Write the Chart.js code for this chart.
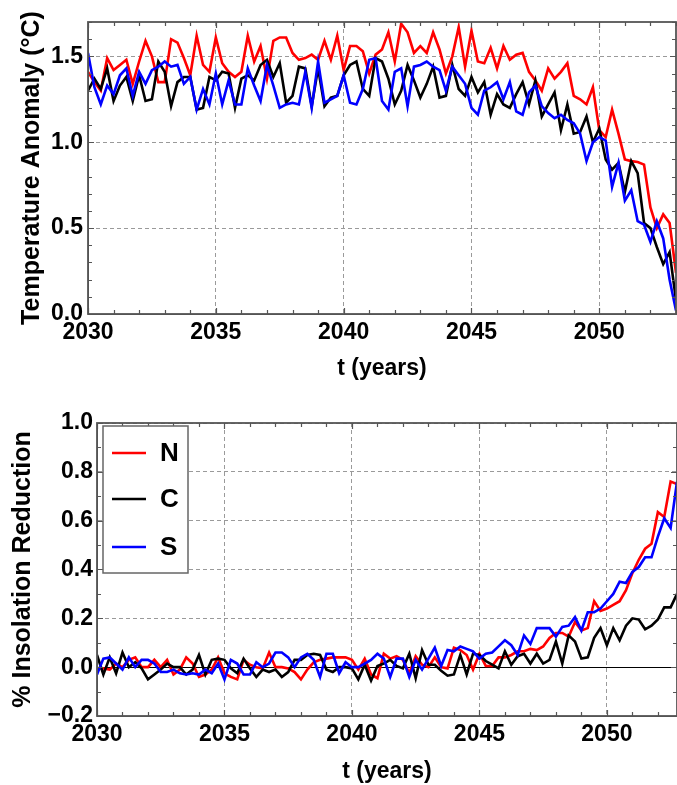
<!DOCTYPE html>
<html><head><meta charset="utf-8">
<script src="https://cdn.jsdelivr.net/npm/chart.js@4/dist/chart.umd.min.js"></script>
<style>
html,body{margin:0;padding:0;background:#fff;width:677px;height:785px;overflow:hidden}
#c1{position:absolute;left:0;top:0}
#c2{position:absolute;left:0;top:395px}
</style></head><body>
<canvas id="c1" width="677" height="395"></canvas>
<canvas id="c2" width="677" height="390"></canvas>
<script>
// ---- data (quarterly samples starting 2030) ----
const startYear = 2030;
const stepYears = 0.25;
const seriesNames = ['N', 'C', 'S'];

const tempN = [1.41,1.35,1.30,1.49,1.42,1.45,1.48,1.34,1.47,1.59,
1.50,1.35,1.35,1.60,1.58,1.49,1.39,1.62,1.45,1.41,
1.61,1.46,1.41,1.38,1.41,1.62,1.47,1.56,1.37,1.59,
1.61,1.61,1.52,1.48,1.49,1.51,1.48,1.59,1.48,1.62,
1.42,1.56,1.56,1.53,1.40,1.51,1.54,1.64,1.47,1.69,
1.64,1.52,1.56,1.52,1.64,1.54,1.40,1.50,1.67,1.44,
1.65,1.47,1.46,1.55,1.43,1.56,1.48,1.51,1.52,1.41,
1.36,1.30,1.43,1.37,1.41,1.46,1.27,1.25,1.22,1.32,
1.07,1.03,1.19,1.05,0.90,0.89,0.885,0.87,0.62,0.50,
0.58,0.53,0.24];
const tempC = [1.30,1.37,1.31,1.43,1.24,1.33,1.38,1.24,1.39,1.24,
1.25,1.47,1.41,1.21,1.35,1.38,1.38,1.19,1.20,1.38,
1.36,1.41,1.40,1.20,1.37,1.39,1.36,1.45,1.48,1.38,
1.46,1.23,1.27,1.44,1.43,1.21,1.43,1.21,1.26,1.27,
1.39,1.45,1.47,1.31,1.27,1.49,1.47,1.37,1.22,1.30,
1.45,1.36,1.26,1.34,1.44,1.26,1.27,1.45,1.31,1.27,
1.38,1.29,1.35,1.16,1.28,1.22,1.20,1.28,1.35,1.22,
1.36,1.15,1.22,1.29,1.07,1.22,1.05,1.06,1.15,1.00,
1.08,0.90,0.84,0.88,0.71,0.89,0.82,0.53,0.50,0.39,
0.29,0.36,0.08];
const tempS = [1.52,1.32,1.22,1.33,1.28,1.39,1.43,1.27,1.41,1.34,
1.42,1.44,1.47,1.44,1.45,1.34,1.38,1.19,1.31,1.22,
1.40,1.22,1.36,1.22,1.22,1.43,1.33,1.24,1.45,1.33,
1.20,1.22,1.23,1.22,1.41,1.20,1.47,1.23,1.25,1.27,
1.39,1.23,1.22,1.31,1.48,1.49,1.24,1.19,1.41,1.43,
1.21,1.44,1.45,1.47,1.44,1.42,1.30,1.44,1.39,1.34,
1.20,1.16,1.30,1.32,1.35,1.25,1.35,1.18,1.16,1.29,
1.33,1.21,1.17,1.14,1.16,1.13,1.11,1.05,0.89,1.00,
1.03,1.01,0.74,0.88,0.66,0.72,0.54,0.52,0.42,0.54,
0.44,0.20,0.02];

const insolN = [-0.005,-0.005,-0.01,0.015,0.0,0.03,0.04,0.0,0.0,0.03,
0.0,0.03,-0.03,-0.01,0.04,0.015,-0.04,-0.03,-0.01,0.04,
-0.025,-0.04,-0.05,0.03,0.01,0.0,-0.005,0.06,0.0,0.0,
-0.005,-0.02,-0.05,-0.01,0.02,0.03,0.035,0.04,0.04,0.04,
0.03,-0.01,0.035,-0.03,-0.045,0.055,0.035,0.045,0.03,-0.025,
0.045,0.01,0.0,0.04,0.0,-0.005,0.08,0.07,0.05,-0.01,
0.055,0.005,0.005,0.04,0.04,0.05,0.065,0.065,0.075,0.07,
0.085,0.12,0.14,0.14,0.125,0.185,0.15,0.16,0.27,0.23,
0.24,0.255,0.27,0.315,0.385,0.44,0.485,0.505,0.635,0.615,
0.76,0.75];
const insolC = [0.05,-0.03,0.04,-0.025,0.06,0.0,0.02,-0.005,-0.05,-0.03,
-0.01,0.015,0.0,0.0,-0.03,-0.01,0.05,-0.03,0.03,0.035,
0.03,-0.005,-0.025,0.035,-0.005,-0.04,-0.01,-0.02,-0.01,-0.04,
-0.02,0.03,0.03,0.05,0.055,0.05,-0.01,-0.02,0.0,0.0,
-0.005,-0.05,0.01,-0.055,0.005,0.015,0.03,0.005,-0.005,0.055,
-0.045,0.07,0.01,0.01,-0.015,-0.035,-0.03,0.05,-0.03,0.055,
0.05,0.025,0.01,-0.005,0.065,0.01,0.045,0.055,0.015,0.055,
0.015,0.03,0.105,0.015,0.13,0.105,0.035,0.04,0.12,0.16,
0.09,0.16,0.11,0.17,0.20,0.195,0.155,0.17,0.195,0.245,
0.245,0.30];
const insolS = [-0.03,0.035,0.04,0.015,-0.01,0.04,0.0,0.03,0.03,0.015,
-0.02,-0.02,-0.01,-0.025,-0.03,-0.025,-0.03,-0.01,-0.025,0.015,
-0.05,0.03,0.015,-0.03,-0.03,0.02,0.0,0.015,0.06,0.06,
0.04,0.0,0.04,0.055,0.03,-0.04,0.055,0.055,-0.025,0.02,
0.0,0.0,0.015,0.03,0.055,0.035,-0.04,0.035,0.035,-0.04,
0.03,-0.01,0.035,0.08,0.005,0.07,0.065,0.085,0.075,0.065,
0.035,0.055,0.06,0.085,0.11,0.09,0.05,0.13,0.095,0.16,
0.16,0.16,0.125,0.165,0.17,0.205,0.15,0.225,0.225,0.24,
0.27,0.30,0.35,0.345,0.39,0.41,0.45,0.45,0.535,0.61,
0.57,0.76];

const colors = ['#ff0000', '#000000', '#0000ff'];
const FONT = "'Liberation Sans', Arial, Helvetica, sans-serif";

function toXY(arr) { return arr.map((v, i) => ({x: startYear + i * stepYears, y: v})); }

function datasets(arrs) {
  return arrs.map((arr, k) => ({
    label: seriesNames[k], data: toXY(arr), borderColor: colors[k],
    borderWidth: 2.6, pointRadius: 0, tension: 0, fill: false,
    order: [2, 1, 0][k], borderJoinStyle: 'miter', borderCapStyle: 'butt'
  }));
}

// frame with inward ticks on all four sides
const framePlugin = {
  id: 'frame',
  afterDraw(chart, args, o) {
    const {ctx, chartArea: a, scales: {x, y}} = chart;
    ctx.save();
    ctx.strokeStyle = '#555';
    ctx.lineWidth = 1.2;
    ctx.beginPath();
    const nx = Math.round((x.max - x.min) / o.xMinor);
    for (let k = 0; k <= nx; k++) {
      const v = x.min + k * o.xMinor;
      const px = Math.round(x.getPixelForValue(v)) + 0.5;
      const major = Math.abs(v / o.xMajor - Math.round(v / o.xMajor)) < 1e-6;
      const len = major ? 6 : 4;
      ctx.moveTo(px, a.bottom); ctx.lineTo(px, a.bottom - len);
      ctx.moveTo(px, a.top); ctx.lineTo(px, a.top + len);
    }
    const ny = Math.round((y.max - y.min) / o.yMinor);
    for (let k = 0; k <= ny; k++) {
      const v = y.min + k * o.yMinor;
      const py = Math.round(y.getPixelForValue(v)) + 0.5;
      const major = Math.abs(v / o.yMajor - Math.round(v / o.yMajor)) < 1e-6;
      const len = major ? 6 : 4;
      ctx.moveTo(a.left, py); ctx.lineTo(a.left + len, py);
      ctx.moveTo(a.right, py); ctx.lineTo(a.right - len, py);
    }
    ctx.stroke();
    ctx.lineWidth = 1.8;
    ctx.strokeRect(a.left, a.top, a.right - a.left, a.bottom - a.top);
    ctx.restore();
  }
};

// zero line for bottom panel
const zeroLinePlugin = {
  id: 'zeroLine',
  beforeDatasetsDraw(chart) {
    const {ctx, chartArea: a, scales: {y}} = chart;
    const py = Math.round(y.getPixelForValue(0)) + 0.5;
    ctx.save();
    ctx.strokeStyle = '#000'; ctx.lineWidth = 1;
    ctx.beginPath(); ctx.moveTo(a.left, py); ctx.lineTo(a.right, py); ctx.stroke();
    ctx.restore();
  }
};

// legend box inside bottom panel
const boxLegendPlugin = {
  id: 'boxLegend',
  afterDraw(chart, args, o) {
    const {ctx} = chart;
    ctx.save();
    ctx.fillStyle = '#fff';
    ctx.fillRect(o.x, o.y, o.w, o.h);
    ctx.strokeStyle = '#666'; ctx.lineWidth = 1.5;
    ctx.strokeRect(o.x, o.y, o.w, o.h);
    ctx.font = 'bold 26px ' + FONT;
    ctx.textAlign = 'left'; ctx.textBaseline = 'middle';
    chart.data.datasets.forEach((ds, i) => {
      const yy = o.y + o.rows[i];
      ctx.strokeStyle = ds.borderColor; ctx.lineWidth = 2.6;
      ctx.beginPath(); ctx.moveTo(o.x + 9, yy); ctx.lineTo(o.x + 43, yy); ctx.stroke();
      ctx.fillStyle = '#000';
      ctx.fillText(ds.label, o.x + 57, yy + 1);
    });
    ctx.restore();
  }
};

const tickFont = {family: FONT, size: 23, weight: 'bold'};
const yTitleFont = {family: FONT, size: 25, weight: 'bold'};
const fmt = v => {
  if (Math.abs(v) < 1e-9) return '0.0';
  return v < 0 ? '\u2212' + Math.abs(v).toFixed(1) : v.toFixed(1);
};

function xScale(max, height) {
  return {
    type: 'linear', min: 2030, max: max,
    afterFit: s => { s.height = height; },
    ticks: {stepSize: 5, includeBounds: false, autoSkip: false, maxRotation: 0, minRotation: 0,
            padding: 5, color: '#000', font: tickFont, callback: v => String(v)},
    grid: {color: '#9a9a9a', lineWidth: 1, drawTicks: false},
    border: {display: true, color: '#555', width: 1, dash: [4, 3]},
    title: {display: true, text: 't (years)', color: '#000', font: tickFont, padding: {top: 0, bottom: height > 75 ? 13 : 0}}
  };
}
function yScale(min, max, step, width, title, tpad, lpad) {
  return {
    min: min, max: max,
    afterFit: s => { s.width = width; },
    ticks: {stepSize: step, includeBounds: false, padding: lpad, color: '#000', font: tickFont, callback: fmt},
    grid: {color: '#9a9a9a', lineWidth: 1, drawTicks: false},
    border: {display: true, color: '#555', width: 1, dash: [4, 3]},
    title: {display: true, text: title, color: '#000', font: yTitleFont, padding: {top: tpad, bottom: 0}}
  };
}

Chart.defaults.font.family = FONT;

new Chart(document.getElementById('c1'), {
  type: 'line',
  data: {datasets: datasets([tempN, tempC, tempS])},
  options: {
    responsive: false, animation: false, events: [],
    layout: {padding: {top: 22, right: 1, left: 0, bottom: 0}},
    plugins: {legend: {display: false}, tooltip: {enabled: false},
      frame: {xMinor: 1, xMajor: 5, yMinor: 0.1, yMajor: 0.5}},
    scales: {
      x: xScale(2053, 81),
      y: yScale(0, 1.7, 0.5, 88, 'Temperature Anomaly (\u00B0C)', 17, 5)
    }
  },
  plugins: [framePlugin]
});

new Chart(document.getElementById('c2'), {
  type: 'line',
  data: {datasets: datasets([insolN, insolC, insolS])},
  options: {
    responsive: false, animation: false, events: [],
    layout: {padding: {top: 28, right: 0, left: 0, bottom: 0}},
    plugins: {legend: {display: false}, tooltip: {enabled: false},
      frame: {xMinor: 1, xMajor: 5, yMinor: 0.1, yMajor: 0.2},
      boxLegend: {x: 103, y: 31, w: 85, h: 147, rows: [27, 73, 121]}},
    scales: {
      x: xScale(2052.75, 69),
      y: yScale(-0.2, 1.0, 0.2, 97, '% Insolation Reduction', 8, 4)
    }
  },
  plugins: [zeroLinePlugin, framePlugin, boxLegendPlugin]
});
</script>
</body></html>
